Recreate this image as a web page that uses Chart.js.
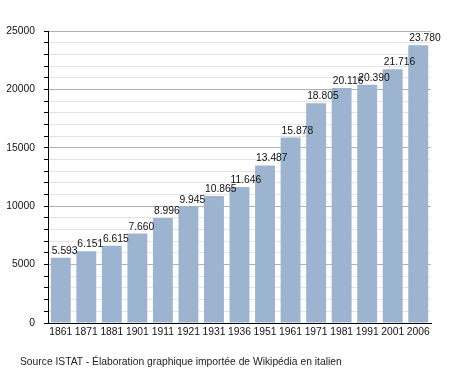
<!DOCTYPE html>
<html>
<head>
<meta charset="utf-8">
<script src="https://cdn.jsdelivr.net/npm/chart.js@4"></script>
<style>
  html, body { margin: 0; padding: 0; background: #fff; }
  #wrap { position: relative; width: 458px; height: 373px; }
  #source {
    position: absolute; left: 20px; top: 356px;
    font: 10.3px "Liberation Sans", Arial, sans-serif; color: #222;
    white-space: nowrap;
  }
</style>
</head>
<body>
<div id="wrap">
  <canvas id="chart" width="458" height="373"></canvas>
  <div id="source">Source ISTAT - Élaboration graphique importée de Wikipédia en italien</div>
</div>
<script>
const years = ['1861', '1871', '1881', '1901', '1911', '1921', '1931', '1936',
               '1951', '1961', '1971', '1981', '1991', '2001', '2006'];
const population = [5593, 6151, 6615, 7660, 8996, 9945, 10865, 11646,
                    13487, 15878, 18805, 20116, 20390, 21716, 23780];
const yMajorStep = 5000;

const fontFamily = '"Liberation Sans", Arial, sans-serif';

function formatThousands(v) {
    return String(v).replace(/\B(?=(\d{3})+(?!\d))/g, '.');
}

// value labels above each bar, starting at the bar's left edge
const barLabels = {
    id: 'barLabels',
    afterDatasetsDraw(chart) {
        const ctx = chart.ctx;
        const meta = chart.getDatasetMeta(0);
        ctx.save();
        ctx.font = '10.3px ' + fontFamily;
        ctx.fillStyle = '#111';
        ctx.textAlign = 'left';
        ctx.textBaseline = 'alphabetic';
        meta.data.forEach((bar, i) => {
            ctx.fillText(formatThousands(population[i]), bar.x - bar.width / 2 + 1, bar.y - 4);
        });
        ctx.restore();
    }
};

new Chart(document.getElementById('chart').getContext('2d'), {
    type: 'bar',
    data: {
        labels: years,
        datasets: [{
            data: population,
            backgroundColor: '#9cb4cf',
            barPercentage: 0.78,
            categoryPercentage: 1.0
        }]
    },
    options: {
        responsive: false,
        animation: false,
        layout: { padding: { left: 0, right: 27, top: 31, bottom: 30 } },
        plugins: {
            legend: { display: false },
            tooltip: { enabled: false }
        },
        scales: {
            x: {
                grid: { display: false, drawTicks: false },
                border: { display: true, color: '#000', width: 1 },
                ticks: {
                    color: '#111',
                    font: { family: fontFamily, size: 10.3 },
                    padding: 3,
                    maxRotation: 0,
                    autoSkip: false
                },
                afterFit(scale) { scale.height = 20; }
            },
            y: {
                min: 0,
                max: 25000,
                border: { display: true, color: '#000', width: 1 },
                grid: {
                    color: (c) => (c.tick && c.tick.value % yMajorStep === 0) ? '#b0b0b0' : '#e4e4e4',
                    tickColor: '#000',
                    tickLength: 4
                },
                ticks: {
                    stepSize: 1000,
                    autoSkip: false,
                    color: '#111',
                    padding: 9,
                    font: { family: fontFamily, size: 10.3 },
                    callback: (v) => v % yMajorStep === 0 ? String(v) : ''
                },
                afterFit(scale) { scale.width = 48; }
            }
        }
    },
    plugins: [barLabels]
});
</script>
</body>
</html>
